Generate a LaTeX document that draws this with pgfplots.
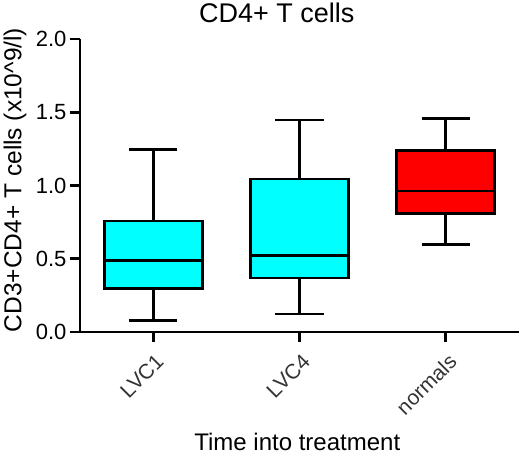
\documentclass[border=0pt]{standalone}
\usepackage{fontspec}
\setmainfont{Liberation Sans}
\usepackage{pgfplots}
\pgfplotsset{compat=1.18}
\usepgfplotslibrary{statistics}
\usetikzlibrary{calc}
\definecolor{aqua}{RGB}{0,255,255}
\definecolor{boxred}{RGB}{255,0,0}
\begin{document}
\begin{tikzpicture}
\begin{axis}[name=ax, scale only axis, width=439pt, height=293pt,
  xmin=0.5, xmax=3.5, ymin=0, ymax=2,
  clip=false,
  every axis title shift=0pt,
  axis x line=bottom, axis y line=left,
  axis line style={-, black, line width=2.8pt},
  xtick={1,2,3}, xticklabels={LVC1,LVC4,normals},
  ytick={0,0.5,1,1.5,2},
  /pgf/number format/assume math mode=true,
  yticklabel style={/pgf/number format/fixed, /pgf/number format/fixed zerofill, /pgf/number format/precision=1, font=\fontsize{22}{24}\selectfont},
  tick align=outside, major tick length=10pt,
  tick style={black, line width=2.8pt},
  xticklabel style={rotate=45, anchor=north east, xshift=-3pt, yshift=-5pt, font=\fontsize{21}{24}\selectfont, text=black!80},
  title={CD4+ T cells},
  title style={at={(axis description cs:0.448,1.058)}, anchor=base, font=\fontsize{27}{30}\selectfont},
  xlabel={Time into treatment},
  xlabel style={at={(axis description cs:0.495,-0.403)}, anchor=base, font=\fontsize{24}{28}\selectfont},
  ylabel={CD3+CD4+ T cells (x10\textasciicircum 9/l)},
  ylabel style={at={(axis description cs:-0.148,0.519)}, anchor=center, font=\fontsize{24.5}{28}\selectfont},
  boxplot/draw direction=y,
  boxplot/box extend=0.67,
  boxplot/whisker extend=0.33,
]
\addplot+[boxplot prepared={lower whisker=0.077, lower quartile=0.298, median=0.49, upper quartile=0.757, upper whisker=1.243, draw position=1},
  draw=black, fill=aqua, line width=2.8pt, solid, mark=none] coordinates {};
\addplot+[boxplot prepared={lower whisker=0.123, lower quartile=0.368, median=0.52, upper quartile=1.045, upper whisker=1.447, draw position=2},
  draw=black, fill=aqua, line width=2.8pt, solid, mark=none] coordinates {};
\addplot+[boxplot prepared={lower whisker=0.595, lower quartile=0.811, median=0.963, upper quartile=1.238, upper whisker=1.459, draw position=3},
  draw=black, fill=boxred, line width=2.8pt, solid, mark=none] coordinates {};
\end{axis}
\pgfresetboundingbox
\path[use as bounding box] ($(ax.south west)+(-80pt,-122pt)$) rectangle ($(ax.north east)+(1pt,39pt)$);
\end{tikzpicture}
\end{document}
